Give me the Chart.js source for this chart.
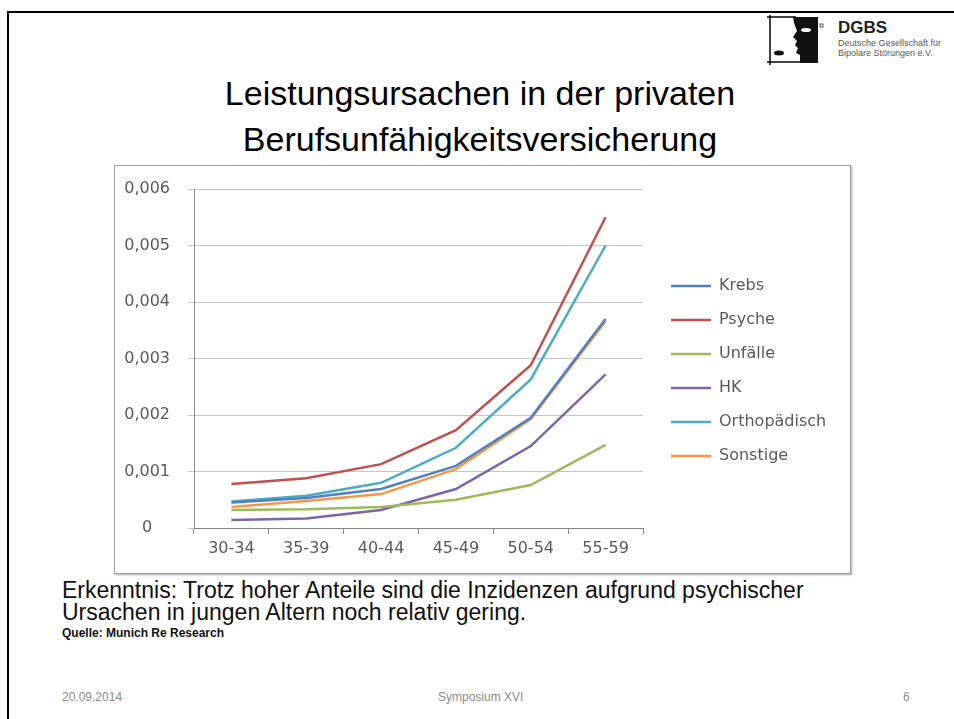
<!DOCTYPE html>
<html>
<head>
<meta charset="utf-8">
<script src="https://cdn.jsdelivr.net/npm/chart.js@4.4.1/dist/chart.umd.min.js"></script>
<style>
  html,body{margin:0;padding:0;background:#fff;}
  body{width:954px;height:719px;position:relative;overflow:hidden;font-family:"Liberation Sans Narrow","Liberation Sans",Roboto,sans-serif;}
  #frame{position:absolute;left:7px;top:11px;width:1000px;height:800px;border:2px solid #000;box-sizing:border-box;}
  #title{position:absolute;left:160px;width:640px;top:70px;text-align:center;font-size:34px;line-height:46px;color:#000;}
  #chartbox{position:absolute;left:114px;top:165px;width:735px;height:407px;border:1px solid #a0a0a0;background:#fff;box-shadow:1px 1px 2px rgba(0,0,0,0.35);}
  #note{position:absolute;left:62px;top:579px;font-size:23px;line-height:22px;color:#111;white-space:nowrap;}
  #src{position:absolute;left:62px;top:626px;font-size:12px;font-weight:bold;color:#111;}
  .foot{position:absolute;top:690px;font-size:12px;color:#8a8a8a;}
  #logo{position:absolute;left:766px;top:13px;}
  #dgbs{position:absolute;left:838px;top:18px;font-family:"Liberation Sans",Arial,sans-serif;font-weight:bold;font-size:17px;color:#222;}
  .lsub{position:absolute;left:838px;font-family:"Liberation Sans",Arial,sans-serif;font-size:9px;color:#555;white-space:nowrap;}
</style>
</head>
<body>
<div id="frame"></div>
<svg id="logo" width="60" height="56" viewBox="0 0 60 56">
  <line x1="4" y1="2" x2="4" y2="52" stroke="#000" stroke-width="1.5"/>
  <line x1="1" y1="4" x2="30" y2="4" stroke="#000" stroke-width="1.5"/>
  <line x1="1" y1="49" x2="36" y2="49" stroke="#000" stroke-width="1.5"/>
  <path d="M27 4 L52 4 L52 50 L34 50 L34 42 L30 40 L32 35 L29 32 L31 28 L27 24 L31 18 L28 10 Z" fill="#111"/>
  <ellipse cx="40" cy="17" rx="5" ry="2" fill="#fff"/>
  <ellipse cx="13" cy="40" rx="5" ry="2.5" fill="#111"/>
  <rect x="54" y="11" width="3" height="3" fill="none" stroke="#333" stroke-width="0.8"/>
</svg>
<div id="dgbs">DGBS</div>
<div class="lsub" style="top:38px;">Deutsche Gesellschaft für</div>
<div class="lsub" style="top:48px;">Bipolare Störungen e.V.</div>

<div id="title">Leistungsursachen in der privaten<br>Berufsunfähigkeitsversicherung</div>

<div id="chartbox"><canvas id="c" width="735" height="407"></canvas></div>

<div id="note">Erkenntnis: Trotz hoher Anteile sind die Inzidenzen aufgrund psychischer<br>Ursachen in jungen Altern noch relativ gering.</div>
<div id="src">Quelle: Munich Re Research</div>
<div class="foot" style="left:62px;">20.09.2014</div>
<div class="foot" style="left:438px;">Symposium XVI</div>
<div class="foot" style="left:903px;">6</div>

<script>
const categories = ['30-34','35-39','40-44','45-49','50-54','55-59'];
const seriesNames = ['Krebs','Psyche','Unfälle','HK','Orthopädisch','Sonstige'];
const krebs    = [0.00045,0.00053,0.00069,0.00110,0.00195,0.00370];
const psyche   = [0.00078,0.00088,0.00113,0.00173,0.00288,0.00550];
const unfaelle = [0.00032,0.00033,0.00037,0.00050,0.00076,0.00147];
const hk       = [0.00014,0.00017,0.00032,0.00069,0.00145,0.00272];
const ortho    = [0.00047,0.00057,0.00080,0.00142,0.00263,0.00500];
const sonstige = [0.00037,0.00048,0.00060,0.00104,0.00193,0.00366];
const yTickLabels = ['0','0,001','0,002','0,003','0,004','0,005','0,006'];

const colors = ['#4F81BD','#C0504D','#9BBB59','#8064A2','#4BACC6','#F79646'];
const values = [krebs, psyche, unfaelle, hk, ortho, sonstige];

const W = 735, H = 407;
const PLOT_LEFT = 79, PLOT_RIGHT = 528, PLOT_TOP = 23, PLOT_BOTTOM = 362, LEGEND_X = 556, LEG_PAD = 18, PAD_TOP = 3;
const font = {family: '"DejaVu Sans", sans-serif', size: 16};
const textColor = '#595959';

const chart = new Chart(document.getElementById('c'), {
  type: 'line',
  data: {
    labels: categories,
    datasets: values.map((v, i) => ({
      label: seriesNames[i],
      data: v,
      borderColor: colors[i],
      backgroundColor: colors[i],
      borderWidth: 2.5,
      pointRadius: 0,
      tension: 0,
      fill: false
    }))
  },
  options: {
    responsive: false,
    animation: false,
    layout: {padding: {left: 0, top: PAD_TOP, right: 20, bottom: 0}},
    plugins: {
      tooltip: {enabled: false},
      legend: {
        position: 'right',
        align: 'center',
        maxWidth: 400,
        labels: {
          font: font,
          color: textColor,
          usePointStyle: true,
          pointStyle: 'line',
          pointStyleWidth: 40,
          boxWidth: 40,
          padding: LEG_PAD
        }
      }
    },
    scales: {
      x: {
        offset: true,
        grid: {display: true, drawOnChartArea: false, offset: true, drawTicks: true, tickLength: 6, color: '#868686'},
        border: {display: true, color: '#868686', width: 1},
        ticks: {font: font, color: textColor, padding: 5, maxRotation: 0, autoSkip: false},
        afterFit: s => { s.height = H - PLOT_BOTTOM; s.paddingLeft = 0; s.paddingRight = 0; }
      },
      y: {
        min: 0, max: 0.006,
        grid: {color: '#c6c6c6', tickLength: 6, drawTicks: true},
        border: {display: true, color: '#868686', width: 1},
        ticks: {
          stepSize: 0.001,
          font: font, color: textColor,
          crossAlign: 'center',
          padding: 18,
          callback: (v, i) => yTickLabels[i]
        },
        afterFit: s => { s.width = PLOT_LEFT; s.paddingTop = 0; s.paddingBottom = 0; }
      },
      topSpacer: {
        type: 'linear',
        position: 'top',
        display: true,
        grid: {display: false, drawTicks: false},
        border: {display: false},
        ticks: {display: false},
        afterFit: s => { s.height = PLOT_TOP - PAD_TOP; s.paddingLeft = 0; s.paddingRight = 0; }
      },
      spacer: {
        type: 'linear',
        position: 'right',
        display: true,
        grid: {display: false, drawTicks: false},
        border: {display: false},
        ticks: {display: false},
        afterFit: s => { s.width = LEGEND_X - LEG_PAD - PLOT_RIGHT; s.paddingTop = 0; s.paddingBottom = 0; }
      }
    }
  }
});
// place legend so its items start at LEGEND_X
const lw = chart.legend.width;
chart.options.layout.padding.right = Math.max(0, W - (LEGEND_X - LEG_PAD) - lw);
chart.update('none');
</script>
</body>
</html>
